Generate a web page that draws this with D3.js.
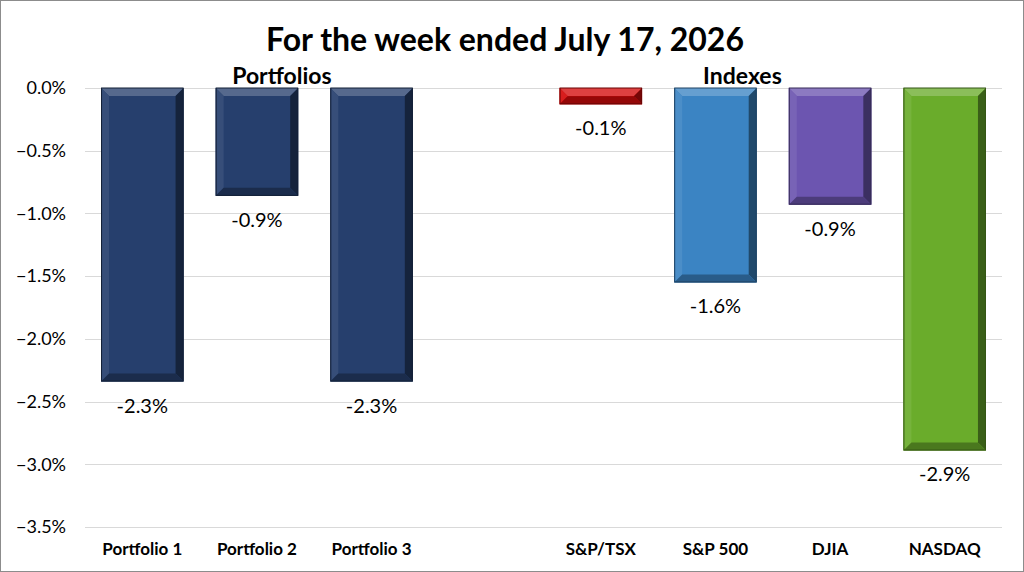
<!DOCTYPE html>
<html>
<head>
<meta charset="utf-8">
<title>Weekly returns</title>
<script src="https://d3js.org/d3.v7.min.js"></script>
<style>
  body { margin: 0; background: #fff; }
  text { font-family: Lato, "Open Sans", sans-serif; fill: #000; }
</style>
</head>
<body>
<svg width="1024" height="572"></svg>
<script>
// data
const categories = ["Portfolio 1", "Portfolio 2", "Portfolio 3", "", "S&P/TSX", "S&P 500", "DJIA", "NASDAQ"];
const values = [-2.34, -0.86, -2.34, null, -0.13, -1.55, -0.93, -2.89];
const valueLabels = ["-2.3%", "-0.9%", "-2.3%", "", "-0.1%", "-1.6%", "-0.9%", "-2.9%"];
const barColors = ["#263f6d", "#263f6d", "#263f6d", null, "#d40a0a", "#3b84c3", "#6c55b0", "#6aac2b"];
const yTicks = [0, -0.5, -1, -1.5, -2, -2.5, -3, -3.5];

const svg = d3.select("svg");
const W = 1024, H = 572;
const margin = { left: 85, right: 22, top: 88, bottom: 45 };

svg.append("rect")
    .attr("x", 0.5).attr("y", 0.5)
    .attr("width", W - 1).attr("height", H - 1)
    .attr("fill", "#fff").attr("stroke", "#8c8c8c");

const x = d3.scaleBand()
    .domain(d3.range(categories.length))
    .range([margin.left, W - margin.right])
    .paddingInner(0.28)
    .paddingOuter(0.14);

const y = d3.scaleLinear()
    .domain([0, -3.5])
    .range([margin.top, H - margin.bottom]);

// gridlines
svg.append("g")
    .selectAll("line")
    .data(yTicks)
    .join("line")
    .attr("x1", margin.left).attr("x2", W - margin.right)
    .attr("y1", d => Math.round(y(d)) + 0.5).attr("y2", d => Math.round(y(d)) + 0.5)
    .attr("stroke", "#d9d9d9").attr("stroke-width", 1.2);

// y axis labels
const yAxis = d3.axisLeft(y).tickValues(yTicks).tickSize(0).tickPadding(0)
    .tickFormat(d => d3.format(".1f")(d) + "%");
svg.append("g")
    .attr("transform", `translate(${margin.left - 19},0)`)
    .call(yAxis)
    .call(g => g.select(".domain").remove())
    .selectAll("text")
    .attr("font-size", 18)
    .style("font-family", "Lato, sans-serif")
    .attr("fill", "#000");

// x axis labels
const xAxis = d3.axisBottom(x).tickSize(0).tickPadding(0).tickFormat(i => categories[i]);
svg.append("g")
    .attr("transform", `translate(0,${H - 29})`)
    .call(xAxis)
    .call(g => g.select(".domain").remove())
    .selectAll("text")
    .attr("font-size", 17)
    .attr("font-weight", "bold")
    .style("font-family", "Lato, sans-serif")
    .attr("fill", "#000");

// bevelled bars
const bars = categories.map((c, i) => ({ i, v: values[i], color: barColors[i] }))
    .filter(d => d.v !== null);

const barG = svg.append("g").selectAll("g")
    .data(bars)
    .join("g");

function facets(d) {
    const x0 = x(d.i), x1 = x(d.i) + x.bandwidth();
    const y0 = y(0), y1 = y(d.v);
    const b = Math.min(8, (y1 - y0) / 2);
    const c = d3.color(d.color);
    return [
        { pts: [[x0, y0], [x1, y0], [x1 - b, y0 + b], [x0 + b, y0 + b]], fill: d3.interpolateRgb(c, "#fff")(0.22) },
        { pts: [[x0, y0], [x0 + b, y0 + b], [x0 + b, y1 - b], [x0, y1]], fill: d3.interpolateRgb(c, "#fff")(0.08) },
        { pts: [[x1, y0], [x1, y1], [x1 - b, y1 - b], [x1 - b, y0 + b]], fill: d3.interpolateRgb(c, "#000")(0.45) },
        { pts: [[x0, y1], [x0 + b, y1 - b], [x1 - b, y1 - b], [x1, y1]], fill: d3.interpolateRgb(c, "#000")(0.3) }
    ];
}

barG.append("rect")
    .attr("x", d => x(d.i))
    .attr("y", y(0))
    .attr("width", x.bandwidth())
    .attr("height", d => y(d.v) - y(0))
    .attr("fill", d => d.color);

barG.selectAll("polygon")
    .data(d => facets(d))
    .join("polygon")
    .attr("points", f => f.pts.map(p => p.join(",")).join(" "))
    .attr("fill", f => f.fill);

barG.append("rect")
    .attr("x", d => x(d.i) + 0.5)
    .attr("y", y(0))
    .attr("width", x.bandwidth() - 1)
    .attr("height", d => y(d.v) - y(0) - 0.5)
    .attr("fill", "none")
    .attr("stroke", d => d3.interpolateRgb(d.color, "#000")(0.5))
    .attr("stroke-width", 1);

// value labels
svg.append("g").selectAll("text")
    .data(bars)
    .join("text")
    .attr("x", d => x(d.i) + x.bandwidth() / 2)
    .attr("y", d => y(d.v) + 31)
    .attr("text-anchor", "middle")
    .attr("font-size", 20)
    .text(d => valueLabels[d.i]);

// title and group headers
svg.append("text")
    .attr("x", 505).attr("y", 51)
    .attr("text-anchor", "middle")
    .attr("font-size", 32)
    .attr("font-weight", "bold")
    .text("For the week ended July 17, 2026");

svg.append("text")
    .attr("x", (x(1) + x.bandwidth() / 2)).attr("y", 84)
    .attr("text-anchor", "middle")
    .attr("font-size", 23)
    .attr("font-weight", "bold")
    .attr("dx", 25)
    .text("Portfolios");

svg.append("text")
    .attr("x", (x(5) + x.bandwidth() / 2)).attr("y", 84)
    .attr("text-anchor", "middle")
    .attr("font-size", 23)
    .attr("font-weight", "bold")
    .attr("dx", 27)
    .text("Indexes");
</script>
</body>
</html>
